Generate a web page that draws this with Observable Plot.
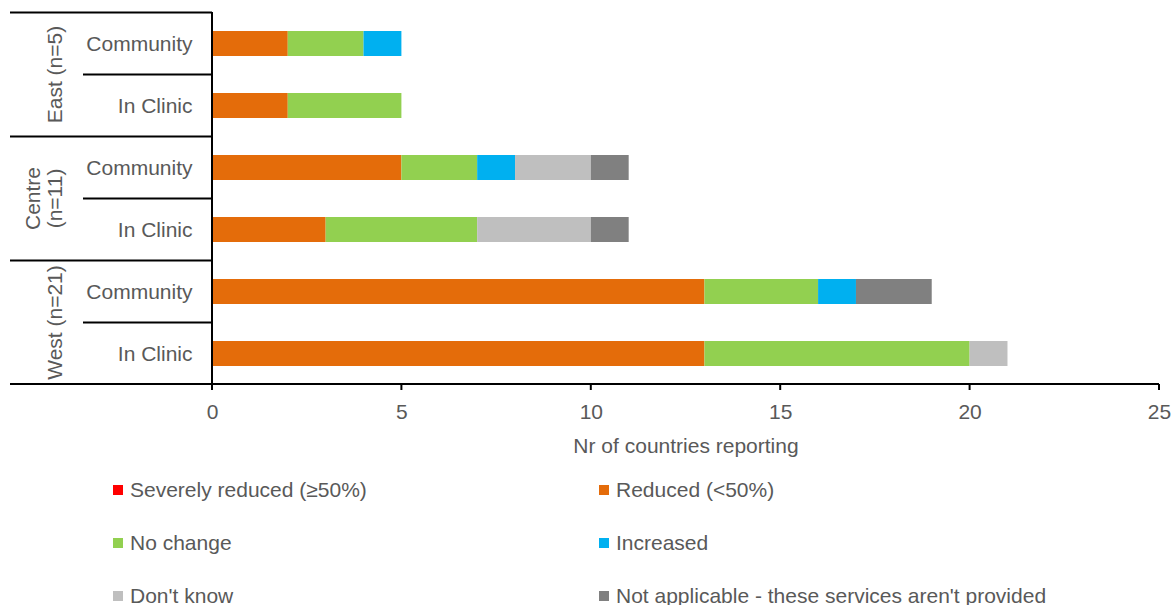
<!DOCTYPE html>
<html>
<head>
<meta charset="utf-8">
<script src="https://cdn.jsdelivr.net/npm/d3@7"></script>
<script src="https://cdn.jsdelivr.net/npm/@observablehq/plot@0.6"></script>
<style>
  html, body { margin: 0; padding: 0; background: #fff; }
  body { width: 1171px; height: 605px; overflow: hidden; font-family: "Liberation Sans", Arial, sans-serif; }
  #legend { display: grid; grid-template-columns: 486px 486px; grid-auto-rows: 53px; padding-left: 113px; margin-top: -2px; color: #595959; font-size: 21px; }
  #legend .item { display: flex; align-items: center; white-space: nowrap; }
  #legend .sw { width: 10px; height: 10px; margin-right: 7px; flex: none; }
</style>
</head>
<body>
<div id="chart"></div>
<div id="legend"></div>
<script>
// ---- data ----
const groups = ["East (n=5)", "Centre (n=11)", "West (n=21)"];
const subcats = ["Community", "In Clinic"];
const categories = [
  "Severely reduced (≥50%)",
  "Reduced (<50%)",
  "No change",
  "Increased",
  "Don't know",
  "Not applicable - these services aren't provided"
];
const colors = ["#FF0000", "#E46C0A", "#92D050", "#00B0F0", "#BFBFBF", "#808080"];
// rows: East Community, East In Clinic, Centre Community, Centre In Clinic, West Community, West In Clinic
const severelyReduced = [0, 0, 0, 0, 0, 0];
const reduced         = [2, 2, 5, 3, 13, 13];
const noChange        = [2, 3, 2, 4, 3, 7];
const increased       = [1, 0, 1, 0, 1, 0];
const dontKnow        = [0, 0, 2, 3, 0, 1];
const notApplicable   = [0, 0, 1, 1, 2, 0];
const xTicks = [0, 5, 10, 15, 20, 25];
const xLabel = "Nr of countries reporting";

// ---- build table ----
const series = [severelyReduced, reduced, noChange, increased, dontKnow, notApplicable];
const rows = [];
groups.forEach(g => subcats.forEach(s => rows.push({group: g, sub: s, key: g + "|" + s})));
const keys = rows.map(r => r.key);
const table = [];
series.forEach((vals, ci) => vals.forEach((v, ri) => table.push({key: keys[ri], cat: categories[ci], value: v})));

function structure(index, scales, values, dim) {
  const {x, y} = scales;
  const top = dim.marginTop, bottom = dim.height - dim.marginBottom;
  let centers, step;
  if (y && typeof y.bandwidth === "function") {
    const bw = y.bandwidth();
    step = y.step();
    centers = keys.map(k => y(k) + bw / 2);
  } else {
    step = (bottom - top) / keys.length;
    centers = keys.map((k, i) => top + (i + 0.5) * step);
  }
  const x0 = x(0);
  const g = d3.create("svg:g");
  const lines = g.append("g").attr("stroke", "#000").attr("stroke-width", 2).attr("fill", "none");
  const line = (x1, y1, x2, y2) => lines.append("line").attr("x1", x1).attr("y1", y1).attr("x2", x2).attr("y2", y2);
  // top boundary
  line(10, centers[0] - step / 2, x0, centers[0] - step / 2);
  // boundaries between rows
  for (let i = 0; i < rows.length - 1; i++) {
    const yy = (centers[i] + centers[i + 1]) / 2;
    const sameGroup = rows[i].group === rows[i + 1].group;
    line(sameGroup ? 83 : 10, yy, x0, yy);
  }
  // bottom axis line
  line(10, bottom, x(xTicks[xTicks.length - 1]), bottom);
  // vertical axis line
  line(x0, top, x0, bottom + 6);
  // ticks
  xTicks.forEach(t => line(x(t), bottom, x(t), bottom + 6));
  // group labels (rotated)
  const labels = g.append("g").attr("fill", "#595959").attr("font-size", 21).attr("text-anchor", "middle");
  groups.forEach(gr => {
    const idx = rows.map((r, i) => r.group === gr ? i : -1).filter(i => i >= 0);
    const cy = (centers[idx[0]] + centers[idx[idx.length - 1]]) / 2;
    const parts = gr.length > 12 ? [gr.slice(0, gr.indexOf(" ")), gr.slice(gr.indexOf(" ") + 1)] : [gr];
    parts.forEach((p, j) => {
      const cx = 55 - (parts.length - 1 - j) * 22;
      labels.append("text")
        .attr("transform", `translate(${cx},${cy}) rotate(-90)`)
        .attr("dy", "0.35em")
        .text(p);
    });
  });
  return g.node();
}

const chart = Plot.plot({
  width: 1171,
  height: 465,
  marginLeft: 212,
  marginRight: 12,
  marginTop: 12,
  marginBottom: 81,
  style: {fontFamily: "'Liberation Sans', Arial, sans-serif", fontSize: "21px", color: "#595959", background: "#fff", overflow: "visible"},
  x: {domain: [0, 25]},
  y: {domain: keys, paddingInner: 0.6, paddingOuter: 0.3},
  color: {domain: categories, range: colors},
  marks: [
    Plot.barX(table, {x: "value", y: "key", fill: "cat", order: categories}),
    Plot.axisY({tickSize: 0, tickPadding: 20, tickFormat: d => d.split("|")[1], fontSize: 21, label: null}),
    Plot.axisX({ticks: xTicks, tickSize: 0, tickPadding: 20, fontSize: 21, label: null}),
    Plot.text([xLabel], {frameAnchor: "bottom", lineAnchor: "middle", dy: 62, text: d => d, fontSize: 21}),
    structure
  ]
});
document.getElementById("chart").appendChild(chart);

// ---- legend ----
const legend = d3.select("#legend");
categories.forEach((c, i) => {
  const item = legend.append("div").attr("class", "item");
  item.append("div").attr("class", "sw").style("background", colors[i]);
  item.append("span").text(c);
});
</script>
</body>
</html>
